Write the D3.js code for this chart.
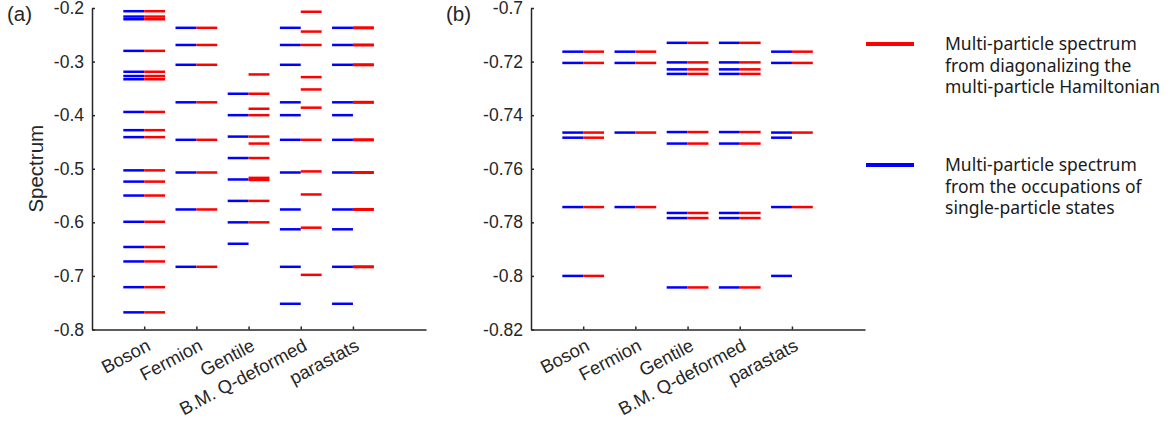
<!DOCTYPE html>
<html>
<head>
<meta charset="utf-8">
<style>
  body { margin: 0; background: #fff; }
  text { fill: #262626; }
  .axis text { font-family: "Liberation Sans", Arial, sans-serif; font-size: 17.5px; fill: #262626; }
  .axis .xlab { font-size: 18.4px; }
  .axis path, .axis line { stroke: #262626; stroke-width: 1.5; }
  .legend text { font-family: "Noto Sans", sans-serif; font-size: 17.5px; fill: #1a1a1a; }
</style>
</head>
<body>
<svg width="1172" height="434"></svg>
<script src="https://cdn.jsdelivr.net/npm/d3@7"></script>
<script>

// categories on the x axis (same for both panels)
var categories = ["Boson", "Fermion", "Gentile", "B.M. Q-deformed", "parastats"];

// y tick values
var ticksA = [-0.8, -0.7, -0.6, -0.5, -0.4, -0.3, -0.2];
var ticksB = [-0.82, -0.8, -0.78, -0.76, -0.74, -0.72, -0.7];

// panel (a): spectrum from occupations of single-particle states (blue)
var occA = [
  [-0.206, -0.216, -0.221, -0.280, -0.319, -0.327, -0.333, -0.394, -0.428, -0.441, -0.503, -0.524, -0.550, -0.599, -0.646, -0.673, -0.721, -0.768],
  [-0.237, -0.269, -0.306, -0.376, -0.446, -0.507, -0.576, -0.683],
  [-0.360, -0.400, -0.440, -0.480, -0.520, -0.560, -0.600, -0.640],
  [-0.237, -0.269, -0.306, -0.376, -0.400, -0.446, -0.507, -0.576, -0.613, -0.683, -0.752],
  [-0.237, -0.269, -0.306, -0.376, -0.400, -0.446, -0.507, -0.576, -0.613, -0.683, -0.752]
];
// panel (a): spectrum from diagonalizing the Hamiltonian (red)
var diagA = [
  [-0.206, -0.216, -0.221, -0.280, -0.319, -0.327, -0.333, -0.394, -0.428, -0.441, -0.503, -0.524, -0.550, -0.599, -0.646, -0.673, -0.721, -0.768],
  [-0.237, -0.269, -0.306, -0.376, -0.446, -0.507, -0.576, -0.683],
  [-0.324, -0.360, -0.388, -0.400, -0.440, -0.453, -0.480, -0.517, -0.521, -0.560, -0.600],
  [-0.207, -0.244, -0.269, -0.329, -0.352, -0.386, -0.446, -0.505, -0.548, -0.610, -0.698],
  [-0.2365, -0.2375, -0.2685, -0.2695, -0.3055, -0.3065, -0.3755, -0.3765, -0.4455, -0.4465, -0.5065, -0.5075, -0.5755, -0.5765, -0.6825, -0.6835]
];

// panel (b)
var occB = [
  [-0.7163, -0.7205, -0.7465, -0.7484, -0.7743, -0.8000],
  [-0.7163, -0.7205, -0.7465, -0.7743],
  [-0.7130, -0.7203, -0.7229, -0.7246, -0.7463, -0.7506, -0.7765, -0.7784, -0.8043],
  [-0.7130, -0.7203, -0.7229, -0.7246, -0.7463, -0.7506, -0.7765, -0.7784, -0.8043],
  [-0.7163, -0.7205, -0.7465, -0.7484, -0.7743, -0.8000]
];
var diagB = [
  [-0.7163, -0.7205, -0.7465, -0.7484, -0.7743, -0.8000],
  [-0.7163, -0.7205, -0.7465, -0.7743],
  [-0.7130, -0.7203, -0.7229, -0.7246, -0.7463, -0.7506, -0.7765, -0.7784, -0.8043],
  [-0.7130, -0.7203, -0.7229, -0.7246, -0.7463, -0.7506, -0.7765, -0.7784, -0.8043],
  [-0.7163, -0.7205, -0.7465, -0.7743]
];

var legendItems = [
  { color: "red", lines: ["Multi-particle spectrum", "from diagonalizing the", "multi-particle Hamiltonian"] },
  { color: "blue", lines: ["Multi-particle spectrum", "from the occupations of", "single-particle states"] }
];

var svg = d3.select("svg");
var plotTop = 8, plotBottom = 329.5, axisLen = 334;

function drawPanel(left, tag, ticks, occ, diag, ylabel) {
  var x = d3.scaleLinear().domain([0, 6.4]).range([left, left + axisLen]);
  var y = d3.scaleLinear().domain([ticks[0], ticks[ticks.length - 1]]).range([plotBottom, plotTop]);
  var g = svg.append("g");
  var half = 0.4;

  // blue then red segments
  occ.forEach(function (vals, i) {
    g.selectAll(null).data(vals).enter().append("line")
      .attr("x1", x(i + 1 - half)).attr("x2", x(i + 1))
      .attr("y1", function (d) { return y(d); })
      .attr("y2", function (d) { return y(d); })
      .attr("stroke", "blue").attr("stroke-width", 2.5);
  });
  diag.forEach(function (vals, i) {
    g.selectAll(null).data(vals).enter().append("line")
      .attr("x1", x(i + 1)).attr("x2", x(i + 1 + half))
      .attr("y1", function (d) { return y(d); })
      .attr("y2", function (d) { return y(d); })
      .attr("stroke", "red").attr("stroke-width", 2.5);
  });

  var fmt = function (d) { return String(+d.toFixed(2)); };

  g.append("g").attr("class", "axis")
    .attr("transform", "translate(" + left + ",0)")
    .call(d3.axisLeft(y).tickValues(ticks).tickFormat(fmt).tickSizeInner(-3).tickSizeOuter(0).tickPadding(8));

  var xa = g.append("g").attr("class", "axis")
    .attr("transform", "translate(0," + plotBottom + ")")
    .call(d3.axisBottom(x).tickValues([1, 2, 3, 4, 5])
      .tickFormat(function (d) { return categories[d - 1]; })
      .tickSizeInner(-3).tickSizeOuter(0));
  xa.selectAll(".tick text")
    .attr("class", "xlab")
    .attr("text-anchor", "end")
    .attr("x", 0).attr("y", 0).attr("dy", "0")
    .attr("transform", "translate(7,20) rotate(-28)");

  svg.append("text").attr("x", left - 85).attr("y", 21)
    .style("font-family", "Liberation Sans, Arial, sans-serif").style("font-size", "20.5px")
    .text(tag);

  if (ylabel) {
    svg.append("text")
      .attr("transform", "translate(" + (left - 49.5) + "," + ((plotTop + plotBottom) / 2) + ") rotate(-90)")
      .attr("text-anchor", "middle")
      .style("font-family", "Liberation Sans, Arial, sans-serif").style("font-size", "20.5px")
      .text(ylabel);
  }
}

drawPanel(92, "(a)", ticksA, occA, diagA, "Spectrum");
drawPanel(531, "(b)", ticksB, occB, diagB, null);

// legend
var lg = svg.append("g").attr("class", "legend");
legendItems.forEach(function (item, k) {
  var y0 = 44 + k * 121;
  lg.append("line").attr("x1", 866).attr("x2", 914)
    .attr("y1", y0).attr("y2", y0)
    .attr("stroke", item.color).attr("stroke-width", 4);
  lg.selectAll(null).data(item.lines).enter().append("text")
    .attr("x", 945)
    .attr("y", function (d, j) { return y0 + 6 + j * 21.7; })
    .text(function (d) { return d; });
});
</script>
</body>
</html>
